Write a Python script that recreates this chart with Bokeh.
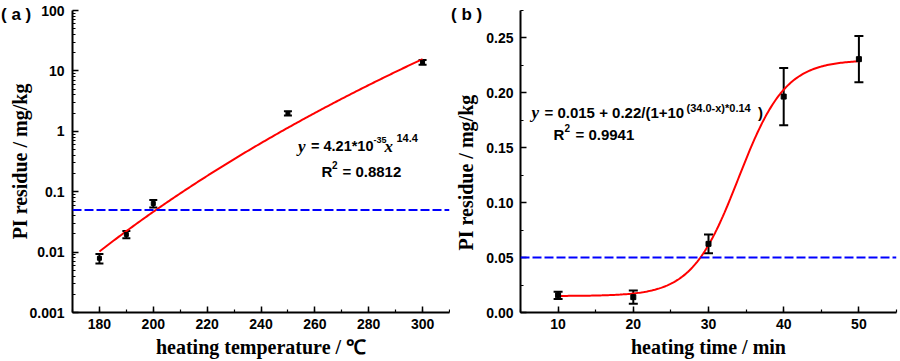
import numpy as np
from bokeh.plotting import figure
from bokeh.models import (Range1d, Whisker, ColumnDataSource, Span, Label, FixedTicker, Title,
                          SingleIntervalTicker, CustomJSTickFormatter, NumeralTickFormatter, TeeHead)
from bokeh.layouts import row
from bokeh.embed import file_html
from bokeh.resources import INLINE

# ---------------- data: panel (a) ----------------
temp_c = [180, 190, 200, 250, 300]
residue_a = [0.0079, 0.0196, 0.0637, 1.98, 13.9]
err_a = [0.0014, 0.0027, 0.009, 0.16, 1.3]
fit_a_coef = 4.21e-35
fit_a_exp = 14.36
threshold = 0.05
xticks_a = [180, 200, 220, 240, 260, 280, 300]
yticks_a = [0.001, 0.01, 0.1, 1, 10, 100]

# ---------------- data: panel (b) ----------------
time_min = [10, 20, 30, 40, 50]
residue_b = [0.0157, 0.0140, 0.0625, 0.1966, 0.2307]
err_b = [0.0033, 0.0060, 0.0086, 0.026, 0.021]
fit_b_base = 0.015
fit_b_amp = 0.215
fit_b_mid = 34.0
fit_b_rate = 0.14
xticks_b = [10, 20, 30, 40, 50]
yticks_b = [0.00, 0.05, 0.10, 0.15, 0.20, 0.25]

SANS = "Liberation Sans"
SERIF = "Liberation Serif"


def style_axes(p):
    p.toolbar_location = None
    p.outline_line_color = None
    p.xgrid.visible = False
    p.ygrid.visible = False
    p.background_fill_color = "white"
    p.border_fill_color = "white"
    for ax in (p.xaxis[0], p.yaxis[0]):
        ax.axis_line_width = 2
        ax.axis_line_color = "black"
        ax.major_tick_in = 6
        ax.major_tick_out = 0
        ax.minor_tick_in = 3
        ax.minor_tick_out = 0
        ax.major_tick_line_width = 1.5
        ax.minor_tick_line_width = 1.2
        ax.major_tick_line_color = "black"
        ax.minor_tick_line_color = "black"
        ax.major_label_text_font = SANS
        ax.major_label_text_font_style = "bold"
        ax.major_label_text_font_size = "14px"
        ax.major_label_text_color = "black"
        ax.axis_label_text_font = SERIF
        ax.axis_label_text_font_style = "bold"
        ax.axis_label_text_color = "black"


def add_label(p, x, y, text, font=SANS, size="15px", style="bold"):
    p.add_layout(Label(x=x, y=y, text=text, text_font=font, text_font_size=size,
                       text_font_style=style, text_color="black", text_baseline="alphabetic"))


def add_tag(p, text, offset):
    p.add_layout(Title(text=text, align="left", vertical_align="bottom", offset=offset,
                       standoff=-26, text_font=SANS, text_font_style="bold",
                       text_font_size="17px", text_color="black"), "above")


# ================= panel (a) =================
pa = figure(width=450, height=361, y_axis_type="log", output_backend="svg",
            toolbar_location=None, x_range=Range1d(170, 310), y_range=Range1d(0.001, 100),
            min_border_left=72, min_border_right=1, min_border_top=10, min_border_bottom=48)
style_axes(pa)
pa.xaxis[0].ticker = SingleIntervalTicker(interval=20, num_minor_ticks=2)
pa.yaxis[0].ticker = FixedTicker(ticks=yticks_a,
                                 minor_ticks=[m * t for t in yticks_a[:-1] for m in range(2, 10)])
pa.yaxis[0].formatter = CustomJSTickFormatter(code="return String(Number(tick.toPrecision(3)));")
pa.xaxis[0].axis_label = "heating temperature / ℃"
pa.xaxis[0].axis_label_text_font_size = "20px"
pa.xaxis[0].axis_label_standoff = 4
pa.xaxis[0].major_label_standoff = 6
pa.yaxis[0].axis_label = "PI residue / mg/kg"
pa.yaxis[0].axis_label_text_font_size = "20px"
pa.yaxis[0].axis_label_standoff = -5
pa.yaxis[0].major_label_standoff = 8

pa.add_layout(Span(location=threshold, dimension="width", line_color="#0000FF",
                   line_width=2, line_dash="9 3"))

xa = np.linspace(temp_c[0], temp_c[-1], 200)
pa.line(xa, fit_a_coef * xa ** fit_a_exp, line_color="#FF0000", line_width=2)

ra = np.array(residue_a)
ea = np.array(err_a)
src_a = ColumnDataSource(dict(x=temp_c, y=residue_a, lo=ra - ea, hi=ra + ea))
pa.add_layout(Whisker(source=src_a, base="x", upper="hi", lower="lo", dimension="height",
                      line_color="black", line_width=2,
                      upper_head=TeeHead(size=8, line_width=2, line_color="black"),
                      lower_head=TeeHead(size=8, line_width=2, line_color="black")))
pa.scatter("x", "y", source=src_a, marker="square", size=4, color="black")


def ax_(px):
    return 170 + (px - 72) * 140 / 377


def ay_(py):
    return 10 ** (2 - (py - 10) * 5 / 303)


add_label(pa, ax_(297.5), ay_(146), "y", font=SERIF, size="17px", style="bold italic")
add_label(pa, ax_(310.5), ay_(146), "= 4.21*10", size="14.5px")
add_label(pa, ax_(373), ay_(140), "-35", size="9px")
add_label(pa, ax_(384), ay_(146), "x", font=SERIF, size="17px", style="bold italic")
add_label(pa, ax_(396), ay_(137.5), "14.4", size="11px")
add_label(pa, ax_(321), ay_(171.5), "R", size="15px")
add_label(pa, ax_(331.5), ay_(165), "2", size="10px")
add_label(pa, ax_(342), ay_(171.5), "= 0.8812", size="15px")
add_tag(pa, "( a )", -71.5)

# ================= panel (b) =================
pb = figure(width=450, height=361, output_backend="svg", toolbar_location=None,
            x_range=Range1d(5, 55), y_range=Range1d(0, 0.275),
            min_border_left=70, min_border_right=4, min_border_top=8, min_border_bottom=49)
style_axes(pb)
pb.xaxis[0].ticker = SingleIntervalTicker(interval=10, num_minor_ticks=2)
pb.yaxis[0].ticker = SingleIntervalTicker(interval=0.05, num_minor_ticks=2)
pb.yaxis[0].formatter = NumeralTickFormatter(format="0.00")
pb.xaxis[0].axis_label = "heating time / min"
pb.xaxis[0].axis_label_text_font_size = "20px"
pb.xaxis[0].axis_label_standoff = 4
pb.xaxis[0].major_label_standoff = 6
pb.yaxis[0].major_label_standoff = 7

pb.add_layout(Span(location=threshold, dimension="width", line_color="#0000FF",
                   line_width=2, line_dash="9 3"))

xb = np.linspace(time_min[0], time_min[-1], 200)
pb.line(xb, fit_b_base + fit_b_amp / (1 + 10 ** ((fit_b_mid - xb) * fit_b_rate)),
        line_color="#FF0000", line_width=2)

rb = np.array(residue_b)
eb = np.array(err_b)
src_b = ColumnDataSource(dict(x=time_min, y=residue_b, lo=rb - eb, hi=rb + eb))
pb.add_layout(Whisker(source=src_b, base="x", upper="hi", lower="lo", dimension="height",
                      line_color="black", line_width=2,
                      upper_head=TeeHead(size=9, line_width=2, line_color="black"),
                      lower_head=TeeHead(size=9, line_width=2, line_color="black")))
pb.scatter("x", "y", source=src_b, marker="square", size=5, color="black")


def bx_(px):
    return 5 + (px - 520) * 50 / 376


def by_(py):
    return (312 - py) * 0.275 / 304


add_label(pb, bx_(531), by_(111), "y", font=SERIF, size="17px", style="bold italic")
add_label(pb, bx_(544), by_(111), "= 0.015 + 0.22/(1+10", size="15px")
add_label(pb, bx_(686), by_(106.5), "(34.0-x)*0.14", size="11px")
add_label(pb, bx_(757.5), by_(111), ")", size="15px")
add_label(pb, bx_(553), by_(133), "R", size="15px")
add_label(pb, bx_(564), by_(126.5), "2", size="10px")
add_label(pb, bx_(575), by_(133), "= 0.9941", size="15px")
add_tag(pb, "( b )", -69.5)
pb.add_layout(Title(text="PI residue / mg/kg", align="left", vertical_align="top", offset=62,
                    standoff=9, text_font=SERIF, text_font_style="bold",
                    text_font_size="20px", text_color="black"), "left")

layout = row(pa, pb)
open("out.html", "w").write(file_html(layout, INLINE))
